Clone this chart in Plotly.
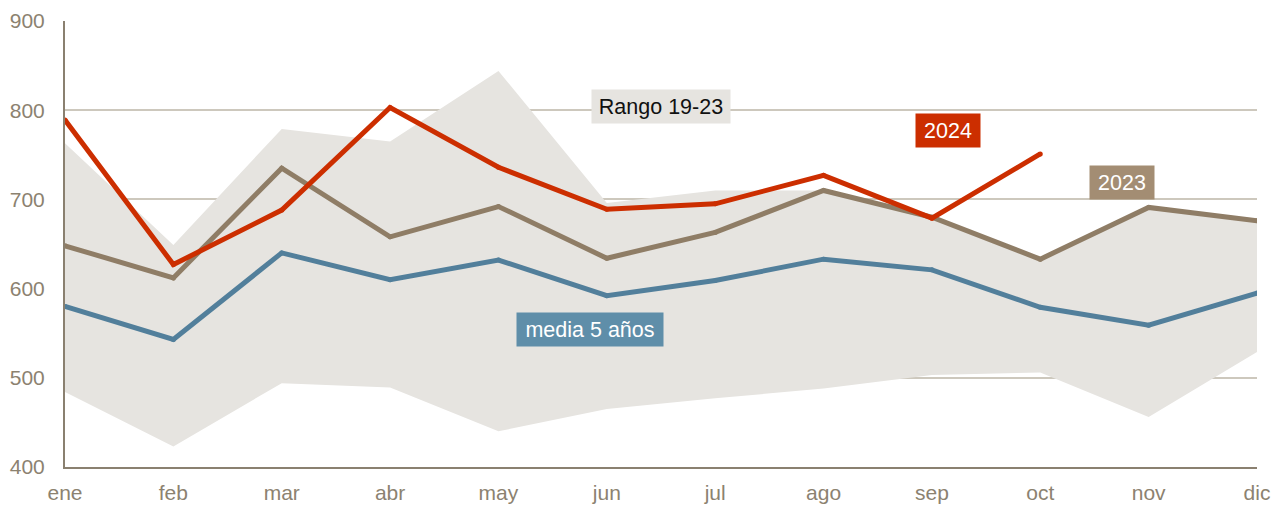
import plotly.graph_objects as go

meses = ['ene', 'feb', 'mar', 'abr', 'may', 'jun', 'jul', 'ago', 'sep', 'oct', 'nov', 'dic']

rango_max = [763, 649, 779, 765, 844, 696, 710, 710, 680, 633, 691, 676]
rango_min = [484, 423, 494, 489, 440, 465, 477, 488, 503, 506, 456, 529]
serie_2023 = [648, 612, 735, 658, 692, 634, 663, 710, 680, 633, 691, 676]
serie_2024 = [789, 627, 688, 803, 736, 689, 695, 727, 679, 751]
media_5 = [580, 543, 640, 610, 632, 592, 609, 633, 621, 579, 559, 595]

x = list(range(len(meses)))

fig = go.Figure()

# Banda del rango 2019-2023
fig.add_trace(go.Scatter(x=x, y=rango_min, mode='lines', line=dict(width=0),
                         showlegend=False, hoverinfo='skip'))
fig.add_trace(go.Scatter(x=x, y=rango_max, mode='lines', line=dict(width=0),
                         fill='tonexty', fillcolor='#e6e4e0',
                         showlegend=False, hoverinfo='skip'))

# marcadores del mismo grosor para que uniones y extremos queden redondeados
for nombre, serie, color in [('media 5 años', media_5, '#527f9b'),
                             ('2023', serie_2023, '#8f7d66'),
                             ('2024', serie_2024, '#cc2e00')]:
    fig.add_trace(go.Scatter(x=x[:len(serie)], y=serie, mode='lines+markers', name=nombre,
                             line=dict(color=color, width=5),
                             marker=dict(color=color, size=5, line=dict(width=0))))

etiquetas = [
    ('Rango 19-23', 5.5, 804, '#e6e4e0', '#111111', 138),
    ('2024', 8.15, 777, '#cc2e00', '#ffffff', 64),
    ('2023', 9.75, 719, '#a38d73', '#ffffff', 64),
    ('media 5 años', 4.845, 554, '#5f8ea9', '#ffffff', 146),
]
for texto, ex, ey, fondo, color, ancho in etiquetas:
    fig.add_annotation(x=ex, y=ey, text=texto, showarrow=False,
                       bgcolor=fondo, width=ancho, height=33, borderpad=0,
                       font=dict(family='Liberation Sans, Arial, sans-serif', size=21.5, color=color))

# la página tiene 8px de margen en el body
fig.update_layout(
    width=1269, height=497,
    margin=dict(l=57, r=20, t=13, b=38),
    plot_bgcolor='white', paper_bgcolor='white',
    showlegend=False,
    font=dict(family='Liberation Sans, Arial, sans-serif', size=21, color='#8c8270'),
    xaxis=dict(range=[0, 11], tickvals=x, ticktext=meses, showgrid=False,
               showline=True, linecolor='#8a8070', linewidth=2, ticks='',
               ticklabelstandoff=6, zeroline=False, automargin=False,
               tickfont=dict(size=21, color='#8c8270')),
    yaxis=dict(range=[400, 900], dtick=100, showgrid=True, gridcolor='#cdc8bd',
               gridwidth=1.5, showline=True, linecolor='#8a8070', linewidth=2,
               zeroline=False, ticks='', ticklabelstandoff=14, automargin=False,
               tickfont=dict(size=21, color='#8c8270')),
)

fig.write_html("out.html")
